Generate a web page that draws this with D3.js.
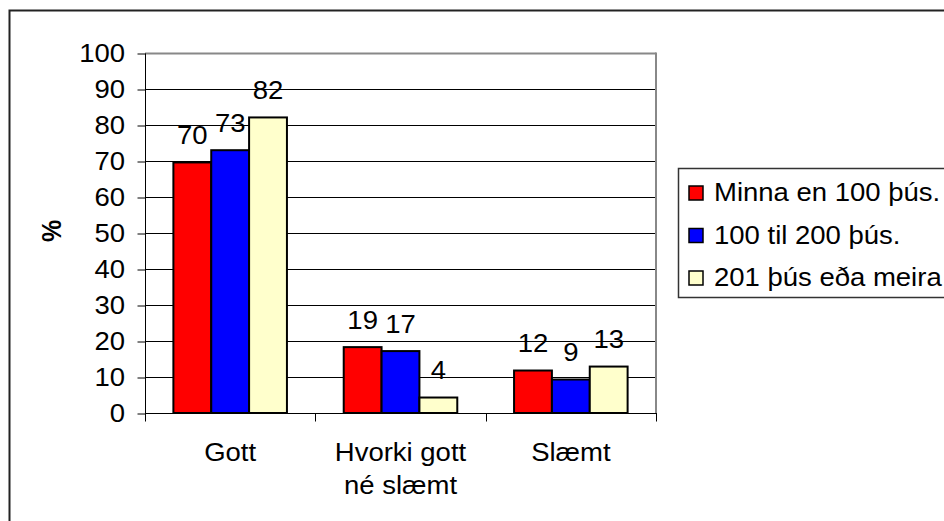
<!DOCTYPE html>
<html>
<head>
<meta charset="utf-8">
<script src="https://cdn.jsdelivr.net/npm/d3@7"></script>
<style>
  body { margin: 0; background: #fff; }
  svg { display: block; font-family: "Liberation Sans", Arial, sans-serif; }
</style>
</head>
<body>
<svg width="944" height="521"></svg>
<script>
// categories and series
const categories = [['Gott'], ['Hvorki gott', 'né slæmt'], ['Slæmt']];
const seriesNames = ['Minna en 100 þús.', '100 til 200 þús.', '201 þús eða meira'];
const seriesColors = ['#ff0000', '#0000ff', '#ffffcc'];
const under100 = [69.6, 18.3, 11.8];
const from100to200 = [73, 17.2, 9.3];
const over200 = [82.1, 4.3, 12.9];
const labels100 = ['70', '19', '12'];
const labels200 = ['73', '17', '9'];
const labelsOver = ['82', '4', '13'];
const yTicks = [0, 10, 20, 30, 40, 50, 60, 70, 80, 90, 100];

const series = [under100, from100to200, over200];
const seriesLabels = [labels100, labels200, labelsOver];

const svg = d3.select('svg');
const sx = 1.1; // the picture is stretched sideways a bit
const fs = 25;

// outer frame
svg.append('rect')
  .attr('x', 9.5).attr('y', 10.5).attr('width', 960).attr('height', 540)
  .attr('fill', 'none').attr('stroke', '#222').attr('stroke-width', 2);

const plot = { left: 145, right: 656, top: 53, bottom: 413 };

const x = d3.scaleBand()
  .domain(d3.range(categories.length))
  .range([plot.left, plot.right]);
const xs = d3.scaleBand()
  .domain(d3.range(series.length))
  .range([0, x.bandwidth()])
  .paddingOuter(0.75).paddingInner(0);
const y = d3.scaleLinear().domain([0, 100]).range([plot.bottom, plot.top]);

function txt(g, tx, ty, s, anchor) {
  return g.append('text')
    .attr('transform', 'translate(' + tx + ',' + ty + ') scale(' + sx + ',1)')
    .attr('text-anchor', anchor || 'middle')
    .attr('font-size', fs)
    .attr('fill', '#000')
    .text(s);
}

// gridlines
svg.append('g').selectAll('line').data(yTicks.slice(1)).join('line')
  .attr('x1', plot.left).attr('x2', plot.right)
  .attr('y1', d => Math.round(y(d)) + 0.5).attr('y2', d => Math.round(y(d)) + 0.5)
  .attr('stroke', d => d === 100 ? '#888' : '#000').attr('stroke-width', d => d === 100 ? 2 : 1);

// right border of plot area
svg.append('line')
  .attr('x1', plot.right).attr('x2', plot.right)
  .attr('y1', plot.top - 0.5).attr('y2', plot.bottom)
  .attr('stroke', '#888').attr('stroke-width', 2);

// y axis
const yAxis = svg.append('g').attr('transform', 'translate(' + (plot.left + 0.5) + ',0.5)')
  .call(d3.axisLeft(y).tickValues(yTicks).tickSize(8).tickFormat(''));
yAxis.select('.domain').attr('stroke', '#000').attr('d', 'M0,' + plot.top + 'V' + plot.bottom);
yAxis.selectAll('.tick line').attr('stroke', '#000');
yTicks.forEach(function(t) {
  txt(svg, 125, y(t) + 9, t, 'end');
});

// x axis
const xAxis = svg.append('g').attr('transform', 'translate(0,' + (plot.bottom + 0.5) + ')');
xAxis.append('line').attr('x1', plot.left).attr('x2', plot.right + 1).attr('stroke', '#000');
xAxis.selectAll('.tk').data(d3.range(categories.length + 1)).join('line')
  .attr('class', 'tk')
  .attr('x1', d => Math.round(plot.left + d * x.step()) + 0.5)
  .attr('x2', d => Math.round(plot.left + d * x.step()) + 0.5)
  .attr('y1', 0).attr('y2', 8).attr('stroke', '#000');
categories.forEach(function(lines, i) {
  lines.forEach(function(l, j) {
    txt(svg, x(i) + x.bandwidth() / 2, 461 + j * 33, l);
  });
});

// bars
series.forEach(function(vals, si) {
  const g = svg.append('g');
  g.selectAll('rect').data(vals).join('rect')
    .attr('x', (d, i) => x(i) + xs(si))
    .attr('y', d => y(d))
    .attr('width', xs.bandwidth())
    .attr('height', d => y(0) - y(d))
    .attr('fill', seriesColors[si])
    .attr('stroke', '#000').attr('stroke-width', 2);
  vals.forEach(function(v, i) {
    txt(svg, x(i) + xs(si) + xs.bandwidth() / 2, y(v) - 18.5, seriesLabels[si][i]);
  });
});

// y title
svg.append('text')
  .attr('transform', 'translate(61,231) rotate(-90) scale(1,' + sx + ')')
  .attr('text-anchor', 'middle')
  .attr('font-size', fs).attr('font-weight', 'bold')
  .text('%');

// legend
const legend = svg.append('g');
legend.append('rect')
  .attr('x', 678.5).attr('y', 168.5).attr('width', 300).attr('height', 129)
  .attr('fill', '#fff').attr('stroke', '#333').attr('stroke-width', 1.5);
seriesNames.forEach(function(name, i) {
  const cy = 193 + i * 42.5;
  legend.append('rect')
    .attr('x', 689).attr('y', cy - 7).attr('width', 14).attr('height', 14)
    .attr('fill', seriesColors[i]).attr('stroke', '#000').attr('stroke-width', 1.5);
  txt(legend, 714, cy + 8, name, 'start');
});
</script>
</body>
</html>
